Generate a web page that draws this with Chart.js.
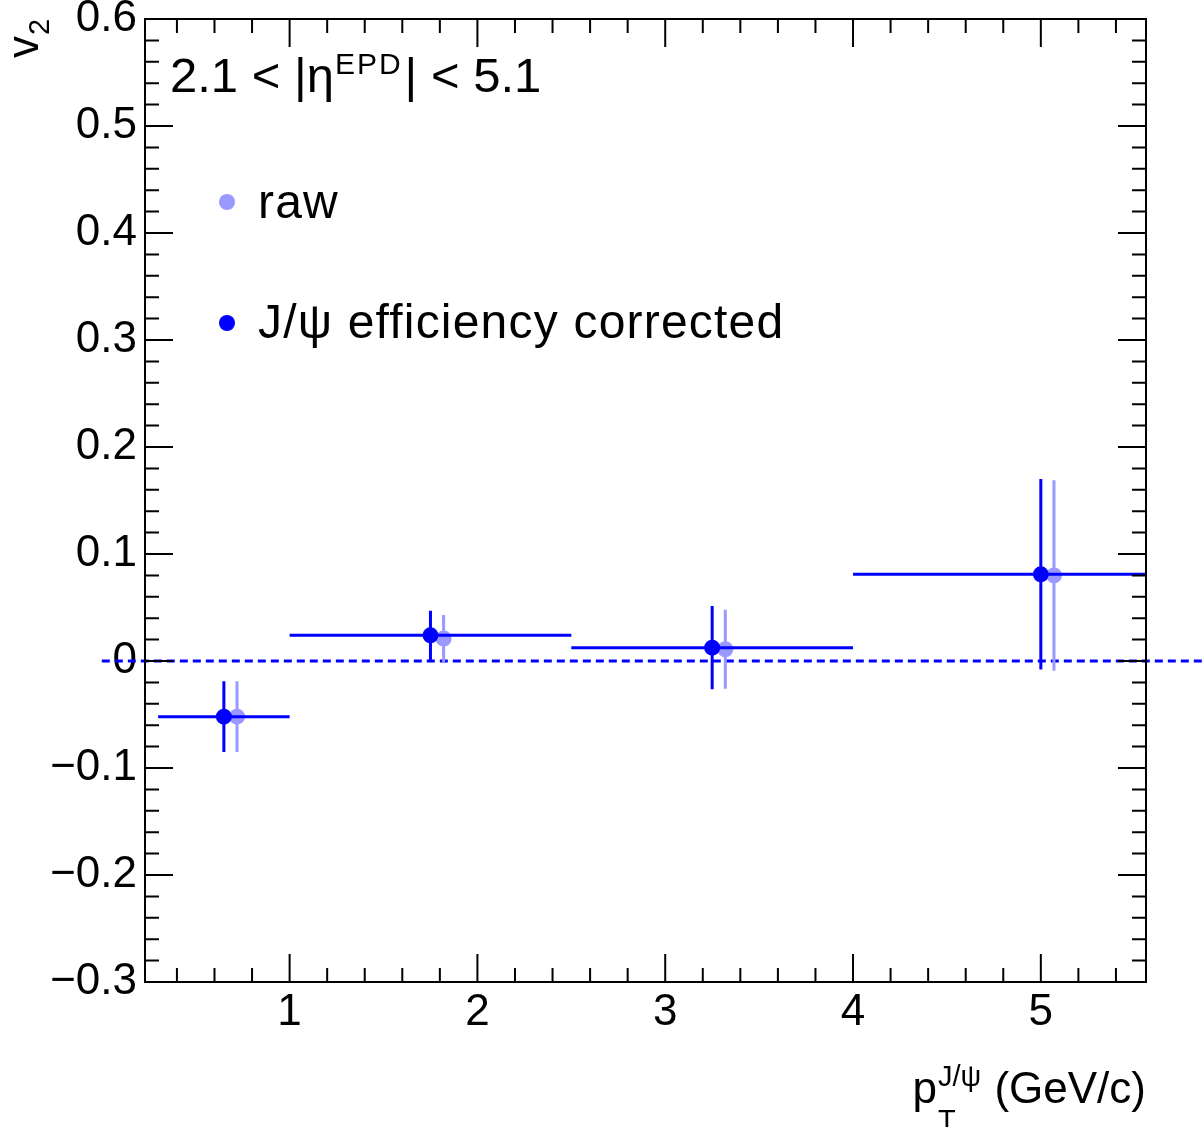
<!DOCTYPE html>
<html><head><meta charset="utf-8">
<script src="https://cdn.jsdelivr.net/npm/chart.js@4/dist/chart.umd.min.js"></script>
<style>html,body{margin:0;padding:0;background:#fff;overflow:hidden}#wrap{width:1204px;height:1127px;position:relative}</style>
</head><body><div id="wrap"><canvas id="c" width="1204" height="1127"></canvas></div>
<script>
// ---- data ----
const binLow = [0.3, 1.0, 2.5, 4.0];
const binHigh = [1.0, 2.5, 4.0, 6.0];
const corrX = [0.65, 1.75, 3.25, 5.0];
const corrV2 = [-0.052, 0.024, 0.0125, 0.081];
const corrErr = [0.033, 0.023, 0.039, 0.089];
const rawX = [0.72, 1.82, 3.32, 5.07];
const rawV2 = [-0.052, 0.021, 0.011, 0.080];
const rawErr = [0.033, 0.022, 0.037, 0.089];
const xTickValues = [1, 2, 3, 4, 5];
const xTickLabels = ['1', '2', '3', '4', '5'];
const yTickValues = [-0.3, -0.2, -0.1, 0, 0.1, 0.2, 0.3, 0.4, 0.5, 0.6];
const yTickLabels = ['\u22120.3', '\u22120.2', '\u22120.1', '0', '0.1', '0.2', '0.3', '0.4', '0.5', '0.6'];
const zeroLineX = [0, 6];
const legendLabels = ['raw', 'J/\u03c8 efficiency corrected'];

const BLUE = '#0000ff';
const LIGHT = '#9999ff';
const FONT = '"Liberation Sans", Arial, Helvetica, sans-serif';

function hSegs(lo, hi, y) {
  const d = [];
  for (let i = 0; i < y.length; i++) {
    d.push({x: lo[i], y: y[i]}, {x: hi[i], y: y[i]}, {x: hi[i], y: null});
  }
  return d;
}
function vSegs(x, y, e) {
  const d = [];
  for (let i = 0; i < y.length; i++) {
    d.push({x: x[i], y: y[i] - e[i]}, {x: x[i], y: y[i] + e[i]}, {x: x[i], y: null});
  }
  return d;
}
function pts(x, y) { return x.map((v, i) => ({x: v, y: y[i]})); }

const lineBase = {showLine: true, pointRadius: 0, borderWidth: 3, spanGaps: false, fill: false, tension: 0};

// frame + ROOT style inward ticks on all sides
const framePlugin = {
  id: 'frame',
  afterDatasetsDraw(chart) {
    const {ctx, chartArea: a, scales: {x, y}} = chart;
    ctx.save();
    ctx.strokeStyle = '#000';
    ctx.lineWidth = 2;
    ctx.beginPath();
    for (let k = 0; k <= 30; k++) {
      const v = k * 0.2;
      const px = x.getPixelForValue(v);
      if (px < a.left - 0.5 || px > a.right + 0.5) continue;
      const major = Math.abs(v - Math.round(v)) < 1e-6;
      const L = major ? 28 : 14;
      ctx.moveTo(px, a.bottom); ctx.lineTo(px, a.bottom - L);
      ctx.moveTo(px, a.top); ctx.lineTo(px, a.top + L);
    }
    for (let k = -15; k <= 30; k++) {
      const v = k * 0.02;
      const py = y.getPixelForValue(v);
      if (py < a.top - 0.5 || py > a.bottom + 0.5) continue;
      const major = k % 5 === 0;
      const L = major ? 28 : 14;
      ctx.moveTo(a.left, py); ctx.lineTo(a.left + L, py);
      ctx.moveTo(a.right, py); ctx.lineTo(a.right - L, py);
    }
    ctx.stroke();
    ctx.strokeRect(a.left, a.top, a.right - a.left, a.bottom - a.top);
    ctx.restore();
  },
  afterDraw(chart) {
    const {ctx, chartArea: a} = chart;
    ctx.save();
    ctx.fillStyle = '#000';
    ctx.textBaseline = 'alphabetic';
    ctx.textAlign = 'left';
    // top-left label: 2.1 < |eta^EPD| < 5.1
    let x0 = 170, yb = 92;
    ctx.font = '49px ' + FONT;
    const t1 = '2.1 < |\u03b7';
    ctx.fillText(t1, x0, yb);
    x0 += ctx.measureText(t1).width;
    ctx.font = '30px ' + FONT;
    ctx.letterSpacing = '2px';
    ctx.fillText('EPD', x0 + 1, yb - 18);
    x0 += ctx.measureText('EPD').width + 3;
    ctx.letterSpacing = '0px';
    ctx.font = '49px ' + FONT;
    ctx.fillText('| < 5.1', x0, yb);

    // legend
    const legendItems = [
      {color: LIGHT, text: legendLabels[0], cy: 202, by: 218},
      {color: BLUE, text: legendLabels[1], cy: 323, by: 338}
    ];
    legendItems.forEach(it => {
      ctx.beginPath();
      ctx.fillStyle = it.color;
      ctx.arc(227, it.cy, 8, 0, Math.PI * 2);
      ctx.fill();
      ctx.fillStyle = '#000';
      ctx.font = '48px ' + FONT;
      ctx.letterSpacing = '1.2px';
      ctx.fillText(it.text, 258, it.by);
      ctx.letterSpacing = '0px';
    });

    // x axis title: p_T^{J/psi} (GeV/c), right aligned at the frame
    ctx.fillStyle = '#000';
    const mainF = '44px ' + FONT, smallF = '29px ' + FONT;
    ctx.font = mainF;
    const wp = ctx.measureText('p').width;
    const wRest = ctx.measureText(' (GeV/c)').width;
    ctx.font = smallF;
    const wSup = ctx.measureText('J/\u03c8').width;
    const wSub = ctx.measureText('T').width;
    const wMid = Math.max(wSup, wSub) + 2;
    const xs = a.right - (wp + wMid + wRest);
    const xb = 1103;
    ctx.font = mainF;
    ctx.fillText('p', xs, xb);
    ctx.font = smallF;
    ctx.fillText('J/\u03c8', xs + wp + 1, xb - 17);
    ctx.fillText('T', xs + wp + 1, xb + 27);
    ctx.font = mainF;
    ctx.fillText(' (GeV/c)', xs + wp + wMid, xb);

    // y axis title: v_2 rotated
    ctx.save();
    ctx.translate(38, 58);
    ctx.rotate(-Math.PI / 2);
    ctx.font = '44px ' + FONT;
    ctx.fillText('v', 0, 0);
    const wv = ctx.measureText('v').width;
    ctx.font = '29px ' + FONT;
    ctx.fillText('2', wv + 1, 11);
    ctx.restore();
    ctx.restore();
  }
};

new Chart(document.getElementById('c'), {
  type: 'scatter',
  data: {
    datasets: [
      {label: 'corrected', data: pts(corrX, corrV2), showLine: false, pointRadius: 8, pointBackgroundColor: BLUE, pointBorderWidth: 0, pointBorderColor: BLUE, order: 0},
      {label: 'corr err', data: vSegs(corrX, corrV2, corrErr), ...lineBase, borderColor: BLUE, order: 1},
      {label: 'corr bins', data: hSegs(binLow, binHigh, corrV2), ...lineBase, borderColor: BLUE, order: 2},
      {label: 'raw', data: pts(rawX, rawV2), showLine: false, pointRadius: 8, pointBackgroundColor: LIGHT, pointBorderWidth: 0, pointBorderColor: LIGHT, order: 3},
      {label: 'raw err', data: vSegs(rawX, rawV2, rawErr), ...lineBase, borderColor: LIGHT, order: 4},
      {label: 'zero', data: zeroLineX.map(v => ({x: v, y: 0})), ...lineBase, borderColor: BLUE, borderDash: [8, 5], clip: false, order: 5}
    ]
  },
  options: {
    responsive: false,
    animation: false,
    events: [],
    layout: {padding: {left: 0, right: 58, top: 19, bottom: 0}},
    plugins: {legend: {display: false}, tooltip: {enabled: false}, title: {display: false}},
    scales: {
      x: {
        type: 'linear', min: 0.23, max: 5.56,
        grid: {display: false, drawTicks: false},
        border: {display: false},
        afterBuildTicks: s => { s.ticks = xTickValues.map(v => ({value: v})); },
        afterFit: s => { s.height = 145; s.paddingLeft = 0; s.paddingRight = 0; },
        ticks: {
          padding: 4, color: '#000', font: {family: FONT, size: 44}, maxRotation: 0, autoSkip: false,
          callback: (v, i) => xTickLabels[i]
        }
      },
      y: {
        type: 'linear', min: -0.3, max: 0.6,
        grid: {display: false, drawTicks: false},
        border: {display: false},
        afterBuildTicks: s => { s.ticks = yTickValues.map(v => ({value: v})); },
        afterFit: s => { s.width = 145; s.paddingTop = 0; s.paddingBottom = 0; },
        ticks: {
          padding: 8, color: '#000', font: {family: FONT, size: 44}, autoSkip: false,
          callback: (v, i) => yTickLabels[i]
        }
      }
    }
  },
  plugins: [framePlugin]
});
</script></body></html>
